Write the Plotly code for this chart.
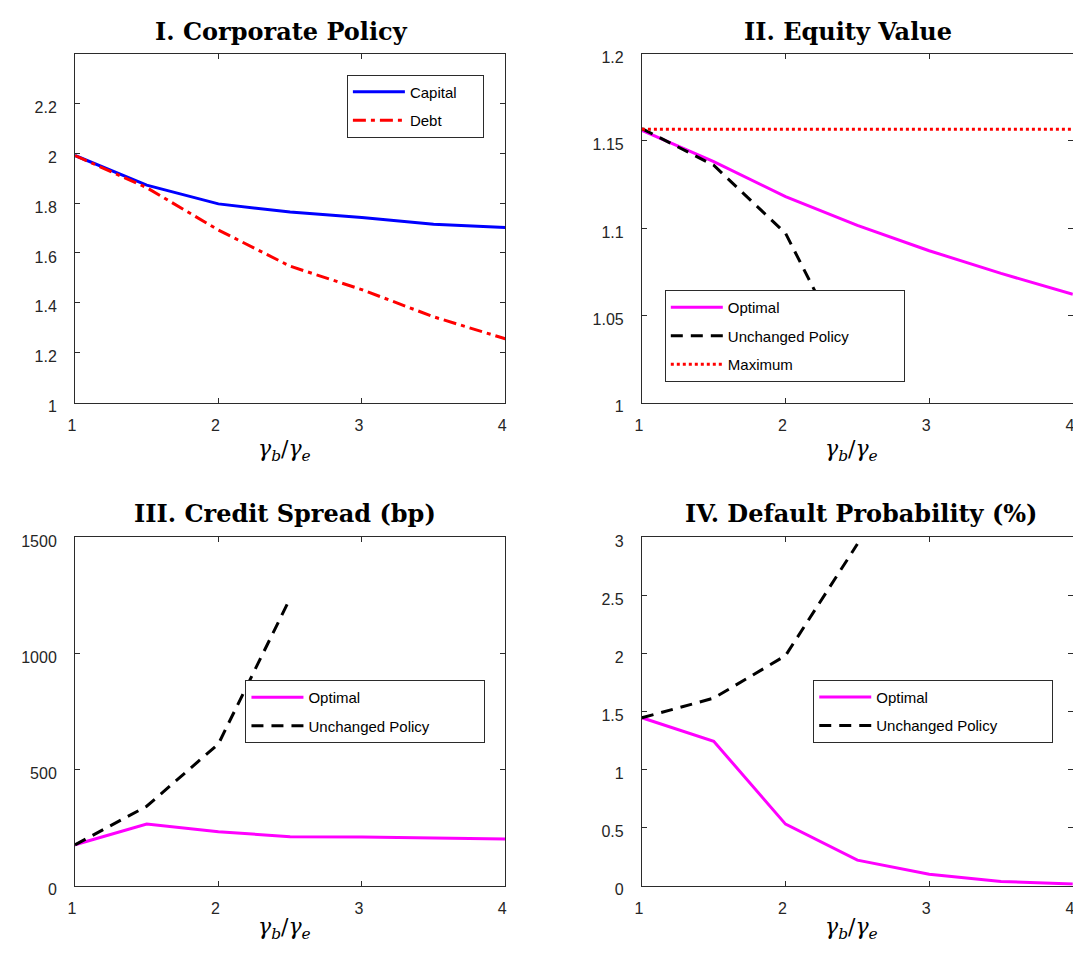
import plotly.graph_objects as go

# ---------------- data ----------------
x_ratio = [1, 1.5, 2, 2.5, 3, 3.5, 4]
x_unchanged = [1, 1.5, 2, 2.5]

capital = [1.991, 1.872, 1.797, 1.764, 1.742, 1.715, 1.702]
debt = [1.991, 1.862, 1.692, 1.547, 1.453, 1.344, 1.256]

equity_optimal = [1.156, 1.138, 1.118, 1.1015, 1.087, 1.074, 1.062]
equity_unchanged = [1.157, 1.136, 1.097, 1.016]
equity_maximum = [1.1566, 1.1566, 1.1566, 1.1566, 1.1566, 1.1566, 1.1566]

spread_optimal = [176, 265, 232, 211, 210, 204, 201]
spread_unchanged = [176, 342, 610, 1237]

pd_optimal = [1.445, 1.243, 0.53, 0.22, 0.099, 0.037, 0.014]
pd_unchanged = [1.445, 1.614, 1.98, 2.94]

panel_titles = ["I. Corporate Policy", "II. Equity Value",
                "III. Credit Spread (bp)", "IV. Default Probability (%)"]
x_ticks = [1, 2, 3, 4]
y1_ticks = [1, 1.2, 1.4, 1.6, 1.8, 2, 2.2]
y1_labels = ["1", "1.2", "1.4", "1.6", "1.8", "2", "2.2"]
y2_ticks = [1, 1.05, 1.1, 1.15, 1.2]
y2_labels = ["1", "1.05", "1.1", "1.15", "1.2"]
y3_ticks = [0, 500, 1000, 1500]
y3_labels = ["0", "500", "1000", "1500"]
y4_ticks = [0, 0.5, 1, 1.5, 2, 2.5, 3]
y4_labels = ["0", "0.5", "1", "1.5", "2", "2.5", "3"]

x_label = "<i>γ</i><sub><i>b</i></sub>/<i>γ</i><sub><i>e</i></sub>"

# ---------------- figure ----------------
OFF = 8  # page body margin
W, H = 1081 - OFF, 954 - OFF
AX = "#2b2b2b"
BLUE, RED, MAG, BLACK = "#0000FF", "#FF0000", "#FF00FF", "#000000"
DASH = "12px,8px"
DASHDOT = "13px,5px,4px,5px"


def pad(name, n):
    return name + "&nbsp;" * n


fig = go.Figure()


def add(xv, yv, name, color, dash, xa, ya, leg, grp, npad):
    fig.add_trace(go.Scatter(
        x=xv, y=yv, mode="lines", name=pad(name, npad),
        line=dict(color=color, width=3, dash=dash),
        xaxis=xa, yaxis=ya, legend=leg, legendgroup=grp, showlegend=True))


add(x_ratio, capital, "Capital", BLUE, "solid", "x", "y", "legend", "a1", 5)
add(x_ratio, debt, "Debt", RED, DASHDOT, "x", "y", "legend", "a2", 5)

add(x_ratio, equity_optimal, "Optimal", MAG, "solid", "x2", "y2", "legend2", "b1", 12)
add(x_unchanged, equity_unchanged, "Unchanged Policy", BLACK, DASH, "x2", "y2", "legend2", "b2", 12)
add(x_ratio, equity_maximum, "Maximum", RED, "dot", "x2", "y2", "legend2", "b3", 12)

add(x_ratio, spread_optimal, "Optimal", MAG, "solid", "x3", "y3", "legend3", "c1", 12)
add(x_unchanged, spread_unchanged, "Unchanged Policy", BLACK, DASH, "x3", "y3", "legend3", "c2", 12)

add(x_ratio, pd_optimal, "Optimal", MAG, "solid", "x4", "y4", "legend4", "d1", 12)
add(x_unchanged, pd_unchanged, "Unchanged Policy", BLACK, DASH, "x4", "y4", "legend4", "d2", 12)

# domains in reference-picture pixels
xl = (68.5, 502.4)
xr = (640.2, 1074.8)
yt = (50.3, 405.7)
yb = (542.7, 897.7)


def fx(p):
    return (p - OFF) / W


def fy(p):
    return 1 - (p - OFF) / H


def xd(p):
    return [fx(p[0]), fx(p[1])]


def yd(p):
    return [fy(p[1]), fy(p[0])]


tickfont = dict(family="Liberation Sans, Arial, sans-serif", size=16, color="#262626")


def xaxis(dom, anchor):
    return dict(domain=xd(dom), anchor=anchor, range=[1, 4], tickvals=x_ticks,
                ticktext=[str(v) for v in x_ticks],
                showline=True, linecolor=AX, linewidth=1, mirror="allticks",
                ticks="inside", ticklen=5, tickcolor=AX, tickwidth=1,
                showgrid=False, zeroline=False, tickfont=tickfont,
                ticklabelstandoff=8, ticklabelshift=-3)


def yaxis(dom, anchor, rng, tv, tt):
    return dict(domain=yd(dom), anchor=anchor, range=rng, tickvals=tv, ticktext=tt,
                showline=True, linecolor=AX, linewidth=1, mirror="allticks",
                ticks="inside", ticklen=5, tickcolor=AX, tickwidth=1,
                showgrid=False, zeroline=False, tickfont=tickfont,
                ticklabelstandoff=14, ticklabelshift=4)


legfont = dict(family="Liberation Sans, Arial, sans-serif", size=15, color="#000000")


def legend(px, py):
    return dict(x=fx(px), y=fy(py), xanchor="left", yanchor="top",
                bgcolor="white", bordercolor=AX, borderwidth=1,
                font=legfont, itemwidth=52, tracegroupgap=6,
                itemclick=False, itemdoubleclick=False)


annotations = []
title_pos = [(277, 28), (848, 28), (280, 519), (861, 519)]
for t, (px, py) in zip(panel_titles, title_pos):
    annotations.append(dict(text="<b>" + t + "</b>", x=fx(px), y=fy(py),
                            xref="paper", yref="paper", showarrow=False,
                            xanchor="center", yanchor="middle",
                            font=dict(family="DejaVu Serif, serif", size=24, color="#000000")))
label_pos = [(280, 455), (852, 455), (280, 941), (852, 941)]
for (px, py) in label_pos:
    annotations.append(dict(text=x_label, x=fx(px), y=fy(py),
                            xref="paper", yref="paper", showarrow=False,
                            xanchor="center", yanchor="middle",
                            font=dict(family="DejaVu Serif, serif", size=22, color="#000000")))

fig.update_layout(
    width=W, height=H, autosize=False,
    margin=dict(l=0, r=0, t=0, b=0),
    paper_bgcolor="white", plot_bgcolor="white",
    xaxis=xaxis(xl, "y"), yaxis=yaxis(yt, "x", [1, 2.4], y1_ticks, y1_labels),
    xaxis2=xaxis(xr, "y2"), yaxis2=yaxis(yt, "x2", [1, 1.2], y2_ticks, y2_labels),
    xaxis3=xaxis(xl, "y3"), yaxis3=yaxis(yb, "x3", [0, 1500], y3_ticks, y3_labels),
    xaxis4=xaxis(xr, "y4"), yaxis4=yaxis(yb, "x4", [0, 3], y4_ticks, y4_labels),
    legend=legend(342.7, 71.7),
    legend2=legend(663.3, 291),
    legend3=legend(240.4, 688.3),
    legend4=legend(813, 688),
    annotations=annotations,
    showlegend=True,
)

fig.write_html("out.html")
